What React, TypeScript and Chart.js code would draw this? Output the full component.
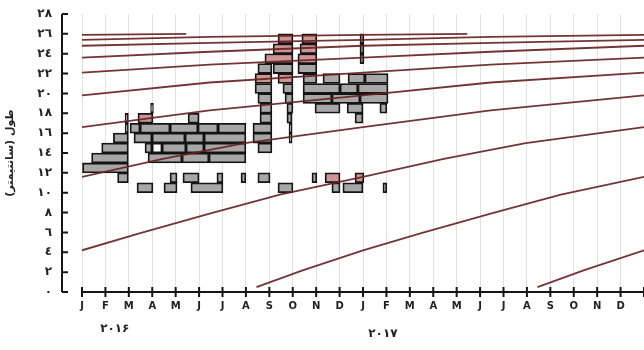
import React, { useEffect, useRef } from 'react';
import { Chart, registerables } from 'chart.js';

Chart.register(...registerables);

// ---------- data ----------
const MONTH_LABELS = ['J', 'F', 'M', 'A', 'M', 'J', 'J', 'A', 'S', 'O', 'N', 'D',
  'J', 'F', 'M', 'A', 'M', 'J', 'J', 'A', 'S', 'O', 'N', 'D', ''];
const Y_TICKS = [0, 2, 4, 6, 8, 10, 12, 14, 16, 18, 20, 22, 24, 26, 28];
const Y_TICK_LABELS = ['٠', '٢', '٤', '٦', '٨', '١٠', '١٢', '١٤', '١٦', '١٨', '٢٠', '٢٢', '٢٤', '٢٦', '٢٨'];
const Y_TITLE = 'طول (سانتیمتر)\u200F';
const YEAR_LABELS = ['٢٠١۶', '٢٠١٧'];
const YEAR_ANCHOR_MONTH = [1.4, 12.85];

// growth curve: length at age (months since recruitment)
const AGE_MONTHS = [0, 2, 4.55, 7, 10, 13, 16.55, 20, 23.5, 28.55, 34, 40.55, 46, 52.55, 58, 64.55, 70, 76.55, 82, 88.55, 94, 100.55, 105];
const LENGTH_CM = [0.5, 2.2, 4.2, 5.9, 7.9, 9.8, 11.6, 13.4, 15.0, 16.6, 18.3, 19.8, 21.1, 22.1, 22.9, 23.6, 24.2, 24.8, 25.1, 25.4, 25.7, 25.9, 26.0];
// cohort recruitment month (0 = Jan 2016)
const COHORT_BIRTH = [19.45, 7.45, -4.55, -16.55, -28.55, -40.55, -52.55, -64.55, -76.55, -88.55, -100.55];

// length-frequency boxes: [length class lower bound, start month, end month]
const GRAY_BOXES: [number, number, number][] = [
  [11, 1.52, 1.98], [12, 0.0, 1.98], [13, 0.41, 1.98], [14, 0.84, 1.98], [15, 1.34, 1.98], [16, 1.84, 1.98],
  [18, 2.93, 3.05], [17, 4.53, 5.0],
  [16, 2.05, 2.48], [16, 2.48, 3.76], [16, 3.76, 4.95], [16, 4.95, 5.81], [16, 5.81, 7.0],
  [15, 2.22, 2.99], [15, 2.99, 4.4], [15, 4.4, 5.21], [15, 5.21, 7.0],
  [14, 2.69, 2.99], [14, 3.42, 4.44], [14, 4.44, 5.21], [14, 5.21, 7.0],
  [13, 2.82, 4.27], [13, 4.27, 5.42], [13, 5.42, 7.0],
  [11, 3.76, 4.06], [11, 4.31, 5.0], [11, 5.76, 6.02], [11, 6.79, 7.0], [11, 7.51, 8.03], [11, 9.82, 10.03],
  [10, 2.35, 3.03], [10, 3.5, 4.06], [10, 4.65, 6.02], [10, 8.37, 9.01], [10, 10.67, 11.02], [10, 11.14, 12.0], [10, 12.85, 13.02],
  [22, 7.51, 8.11], [22, 8.16, 9.01], [22, 9.22, 10.03],
  [21, 9.44, 10.03],
  [20, 7.39, 8.11], [20, 8.58, 9.01],
  [19, 7.51, 8.11], [19, 8.67, 9.01],
  [18, 7.6, 8.11], [18, 8.75, 9.01],
  [17, 7.6, 8.11], [17, 8.75, 8.97],
  [16, 7.3, 8.11], [16, 8.84, 8.97],
  [15, 7.3, 8.11], [15, 8.84, 8.97],
  [14, 7.51, 8.11],
  [21, 10.29, 11.02], [21, 11.36, 12.08], [21, 12.08, 13.07],
  [20, 9.44, 11.02], [20, 11.02, 11.78], [20, 11.78, 13.07],
  [19, 9.44, 10.67], [19, 10.67, 11.87], [19, 11.87, 13.07],
  [18, 9.95, 11.02], [18, 11.32, 12.0], [18, 12.72, 13.02],
  [17, 11.66, 12.0],
  [23, 11.87, 12.04],
];
const PINK_BOXES: [number, number, number][] = [
  [17, 1.84, 1.98], [17, 2.39, 3.03],
  [25, 8.37, 9.01], [25, 9.39, 10.03],
  [24, 8.16, 9.01], [24, 9.31, 10.03],
  [23, 7.81, 9.01], [23, 9.22, 10.03],
  [21, 7.39, 8.11], [21, 8.37, 9.01],
  [11, 10.38, 11.02], [11, 11.66, 12.04],
  [25, 11.87, 12.04], [24, 11.87, 12.04],
];
const WHITE_BOXES: [number, number, number][] = [
  [14, 2.99, 3.42],
];

// ---------- styles ----------
const FONT = '"DejaVu Sans", sans-serif';
const Y_AXIS_GAP = 20;

const toBars = (boxes: [number, number, number][]) =>
  boxes.map(([bin, s, e]) => ({ y: bin + 0.5, x: [s, e] }));

const axesPlugin = {
  id: 'customAxes',
  afterDraw(chart: any) {
    const { ctx, chartArea, scales } = chart;
    const xs = scales.x;
    const ys = scales.y;
    ctx.save();
    ctx.strokeStyle = '#151515';
    ctx.lineWidth = 2;
    const ax = chartArea.left - Y_AXIS_GAP;
    const y0 = ys.getPixelForValue(0);
    ctx.beginPath();
    ctx.moveTo(ax, ys.getPixelForValue(Y_TICKS[Y_TICKS.length - 1]));
    ctx.lineTo(ax, y0);
    Y_TICKS.forEach((v) => {
      const py = ys.getPixelForValue(v);
      ctx.moveTo(ax, py);
      ctx.lineTo(ax + 6, py);
    });
    ctx.moveTo(xs.getPixelForValue(0), y0);
    ctx.lineTo(chartArea.right, y0);
    MONTH_LABELS.forEach((_, i) => {
      const px = xs.getPixelForValue(i);
      ctx.moveTo(px, y0 - 5);
      ctx.lineTo(px, y0 + 5);
    });
    ctx.stroke();
    ctx.fillStyle = '#222';
    ctx.font = 'bold 12px ' + FONT;
    ctx.textAlign = 'center';
    ctx.textBaseline = 'middle';
    ctx.fillText(YEAR_LABELS[0], xs.getPixelForValue(YEAR_ANCHOR_MONTH[0]), 329);
    ctx.fillText(YEAR_LABELS[1], xs.getPixelForValue(YEAR_ANCHOR_MONTH[1]), 334);
    ctx.restore();
  },
};

export default function App() {
  const ref = useRef<HTMLCanvasElement>(null);
  useEffect(() => {
    document.body.style.margin = '0';
    const lineSets = COHORT_BIRTH.map((birth) => ({
      type: 'line' as const,
      indexAxis: 'x' as const,
      data: AGE_MONTHS.map((a, j) => ({ x: birth + a, y: LENGTH_CM[j] })),
      borderColor: 'rgba(105, 35, 35, 0.92)',
      borderWidth: 1.8,
      pointRadius: 0,
      tension: 0,
      fill: false,
      order: 0,
    }));
    const barBase = {
      type: 'bar' as const,
      indexAxis: 'y' as const,
      grouped: false,
      categoryPercentage: 1,
      barPercentage: 1,
      borderColor: '#141414',
      borderWidth: 1.8,
      borderSkipped: false,
      order: 1,
    };
    const chart = new Chart(ref.current!, {
      type: 'bar',
      data: {
        datasets: [
          ...lineSets,
          { ...barBase, data: toBars(GRAY_BOXES), backgroundColor: '#a7a7a7' },
          { ...barBase, data: toBars(PINK_BOXES), backgroundColor: '#cf9494' },
          { ...barBase, data: toBars(WHITE_BOXES), backgroundColor: '#ffffff' },
        ] as any,
      },
      options: {
        responsive: false,
        animation: false,
        events: [],
        indexAxis: 'y',
        layout: { padding: { top: 14, left: 0, right: 0, bottom: 0 } },
        plugins: { legend: { display: false }, tooltip: { enabled: false } },
        scales: {
          x: {
            type: 'linear',
            min: 0,
            max: 24,
            offset: false,
            afterFit: (s: any) => { s.height = 58; s.paddingLeft = 0; s.paddingRight = 0; },
            ticks: {
              stepSize: 1,
              autoSkip: false,
              maxRotation: 0,
              padding: 8,
              color: '#222',
              font: { family: FONT, size: 10, weight: 'bold' },
              callback: (v: any) => MONTH_LABELS[v] ?? '',
            },
            grid: { color: '#e2e2e2', lineWidth: 1, drawTicks: false, offset: false },
            border: { display: false },
          },
          y: {
            type: 'linear',
            min: 0,
            max: 28,
            offset: false,
            afterFit: (s: any) => { s.width = 82; s.paddingTop = 0; s.paddingBottom = 0; },
            ticks: {
              stepSize: 2,
              autoSkip: false,
              padding: 30,
              color: '#222',
              font: { family: FONT, size: 12, weight: 'bold' },
              callback: (v: any) => Y_TICK_LABELS[Y_TICKS.indexOf(v)] ?? '',
            },
            grid: { display: false, drawTicks: false, offset: false },
            border: { display: false },
            title: {
              display: true,
              text: Y_TITLE,
              color: '#222',
              font: { family: FONT, size: 11, weight: 'bold' },
              padding: { top: 4, bottom: 0 },
            },
          },
        },
      } as any,
      plugins: [axesPlugin],
    });
    return () => chart.destroy();
  }, []);
  return (
    <div style={{ width: 644, height: 350 }}>
      <canvas ref={ref} width={644} height={350} />
    </div>
  );
}
